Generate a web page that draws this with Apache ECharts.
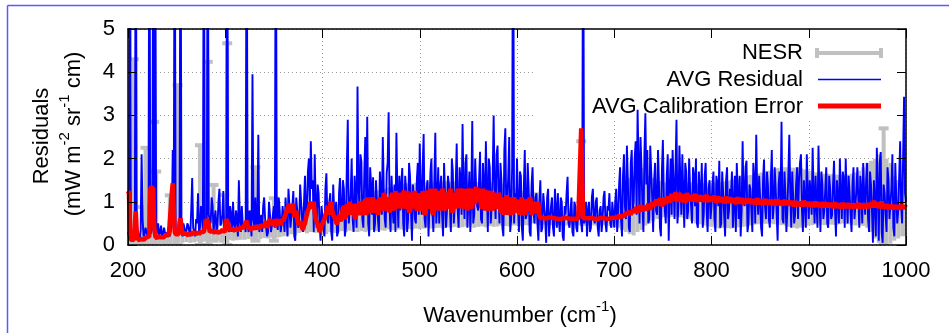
<!DOCTYPE html>
<html><head><meta charset="utf-8">
<script src="https://cdn.jsdelivr.net/npm/echarts@6/dist/echarts.min.js"></script>
<style>html,body{margin:0;padding:0;background:#fff}#c{width:949px;height:333px}</style>
</head><body><div id="c"></div><script>
// ---- data ----
// residual & calibration error: values at even wavenumbers 200,202,...,1000 and odd ones 201,203,...,999
const wnStart = 200;
const wnStep = 2;
const residualEven = [
0.3, 9, 0.2, 0.1, 9, 0.3, 0.15, 2.1, 0.2, 0.4,
0.2, 9, 0.3, 9, 8, 0.35, 0.2, 0.45, 0.25, 0.3,
0.25, 0.4, 0.2, 2.2, 9, 0.3, 0.35, 9, 0.2, 0.4,
0.3, 0.45, 0.2, 1.55, 0.3, 0.6, 1.2, 0.4, 0.7, 9,
0.5, 9, 0.6, 1.1, 0.3, 0.8, 0.4, 1.3, 0.5, 1.25,
0.4, 9, 0.3, 0.7, 1.0, 0.35, 0.6, 1.5, 0.3, 0.5,
0.45, 9, 0.3, 0.6, 3.95, 0.4, 0.35, 2.55, 0.5, 0.3,
1.1, 0.4, 0.3, 0.7, 0.45, 0.9, 9, 0.35, 0.8, 0.5,
0.6, 1.1, 0.2, 0.9, 0.4, 1.25, 0.1, 0.8, 0.5, 1.0,
0.3, 1.6, 0.8, 2.0, 2.4, 1.5, 2.1, 0.4, 1.2, 0.1,
0.9, 0.2, 1.66, 0.5, 1.2, 0.1, 0.8, 1.0, 0.3, 1.55,
0.6, 1.3, 0.4, 2.9, 0.8, 2.0, 0.3, 1.1, 3.67, 0.9,
1.93, 0.4, 2.5, 2.97, 0.2, 1.4, 1.57, 0.5, 1.0, 0.3,
1.2, 2.5, 0.6, 1.67, 3.07, 0.3, 0.9, 1.4, 2.6, 0.4,
0.8, 1.78, 0.2, 1.3, 0.6, 1.6, 0.1, 1.1, 0.5, 1.9,
2.35, 0.7, 2.57, 0.4, 1.5, 0.9, 2.0, 0.3, 2.6, 1.0,
0.5, 1.6, 0.2, 1.2, 0.8, 1.4, 0.3, 1.7, 0.9, 2.35,
0.4, 1.5, 2.8, 0.6, 2.1, 1.0, 0.3, 2.87, 0.7, 1.3,
0.8, 2.16, 0.5, 1.4, 2.4, 0.3, 1.8, 0.9, 3.0, 0.6,
2.3, 0.5, 1.5, 0.2, 2.7, 1.0, 2.5, 0.6, 9, 1.2,
2.0, 0.3, 1.6, 0.1, 2.2, 0.7, 1.3, 0.2, 1.8, 0.5,
1.2, 0.1, 1.5, 0.4, 0.9, 0.05, 1.3, 0.6, 1.1, 0.2,
0.8, 1.2, 0.3, 1.0, 0.1, 0.7, 1.58, 0.4, 1.1, 0.2,
0.9, 0.3, 1.2, 0.5, 9, 0.6, 0.2, 1.0, 0.4, 1.3,
0.5, 1.1, 0.2, 0.9, 0.6, 1.25, 0.3, 0.8, 0.5, 1.0,
0.4, 1.3, 0.7, 1.8, 0.2, 2.1, 0.6, 1.5, 0.3, 2.2,
1.0, 2.4, 3.13, 0.5, 1.8, 0.3, 3.05, 2.2, 0.6, 1.7,
0.3, 1.9, 0.7, 1.4, 0.2, 2.43, 0.8, 1.6, 0.1, 2.0,
2.2, 0.6, 2.9, 0.9, 1.5, 2.1, 0.4, 1.7, 0.8, 1.3,
0.5, 1.6, 2.0, 0.4, 1.2, 1.9, 0.7, 1.9, 0.3, 1.5,
0.9, 1.7, 0.3, 1.4, 1.95, 0.5, 1.2, 0.2, 1.8, 0.8,
1.1, 0.4, 1.6, 1.9, 0.6, 0.2, 2.4, 0.9, 1.95, 0.5,
1.3, 0.3, 1.5, 2.55, 0.7, 1.1, 0.2, 1.98, 0.6, 1.4,
0.4, 2.2, 0.9, 1.3, 0.1, 1.7, 2.85, 0.5, 1.2, 0.8,
2.55, 0.4, 1.1, 0.7, 1.8, 1.5, 2.1, 0.3, 1.0, 2.1,
0.6, 1.2, 2.25, 0.5, 0.9, 2.3, 0.3, 1.4, 0.8, 1.8,
0.4, 1.3, 0.7, 1.95, 0.2, 1.1, 2.0, 0.6, 1.5, 2.0,
0.5, 1.2, 0.3, 1.8, 0.9, 1.8, 0.4, 1.3, 1.9, 0.7,
1.9, 0.3, 1.4, 0.05, 1.0, 2.25, 0.1, 2.15, 0.05, 1.2,
0.3, 1.5, 0.6, 2.1, 0.2, 1.1, 0.8, 2.4, 0.5, 3.43,
1.0
];
const residualOdd = [
0.2, 0.4, 0.15, 0.3, 0.5, 0.2, 0.35, 0.6, 0.25, 0.3,
0.35, 0.25, 0.4, 0.3, 0.2, 0.5, 0.3, 0.2, 0.4, 0.25,
0.3, 0.2, 0.45, 0.5, 0.3, 0.25, 0.4, 0.3, 0.5, 0.25,
0.5, 0.3, 0.8, 0.4, 0.2, 0.5, 0.3, 0.9, 0.35, 0.6,
0.4, 0.7, 0.5, 0.9, 0.6, 0.3, 1.0, 0.45, 0.7, 0.3,
0.6, 0.4, 0.9, 0.3, 0.5, 0.8, 0.2, 0.6, 0.9, 0.4,
0.3, 0.5, 0.8, 0.2, 0.6, 1.1, 0.5, 0.3, 0.7, 0.9,
0.6, 0.2, 1.0, 0.3, 0.7, 0.4, 0.5, 1.1, 0.3, 0.9,
0.3, 0.7, 1.3, 0.4, 0.9, 0.2, 1.1, 0.4, 1.4, 0.6,
1.0, 0.5, 1.7, 0.9, 1.3, 0.3, 0.9, 1.4, 0.5, 0.9,
0.4, 1.3, 0.6, 1.0, 0.3, 1.4, 0.5, 0.2, 1.2, 0.7,
1.5, 0.2, 1.8, 0.5, 1.2, 0.6, 1.6, 0.4, 1.3, 2.1,
0.6, 1.7, 0.9, 0.5, 1.8, 0.7, 0.3, 1.5, 0.6, 1.7,
0.7, 1.3, 0.4, 1.9, 0.8, 1.6, 0.5, 0.3, 1.2, 1.6,
1.4, 0.5, 1.6, 0.3, 1.9, 0.8, 1.4, 0.6, 1.5, 0.7,
1.2, 1.8, 0.6, 1.3, 0.2, 1.7, 0.8, 1.5, 0.5, 1.8,
1.3, 0.7, 1.9, 0.4, 1.6, 0.9, 2.0, 0.5, 1.4, 0.8,
1.8, 0.7, 1.3, 1.9, 0.4, 1.7, 1.2, 0.5, 2.0, 0.9,
1.5, 0.6, 1.9, 0.8, 1.3, 2.0, 0.5, 1.6, 1.2, 2.1,
1.2, 1.9, 0.4, 2.2, 0.7, 1.6, 0.3, 1.8, 0.5, 0.8,
0.9, 1.7, 0.4, 1.3, 0.6, 1.9, 0.3, 1.4, 0.8, 1.1,
0.5, 1.0, 0.3, 1.2, 0.6, 1.1, 0.2, 0.9, 0.4, 1.3,
0.4, 0.6, 1.1, 0.2, 0.9, 1.2, 0.5, 0.8, 0.3, 1.0,
0.4, 1.1, 0.7, 0.3, 0.5, 1.0, 0.8, 0.3, 1.1, 0.6,
1.0, 0.4, 0.8, 0.3, 1.1, 0.5, 0.9, 1.2, 0.4, 0.7,
1.0, 0.3, 1.4, 0.6, 1.6, 0.9, 2.3, 0.4, 1.9, 0.8,
2.0, 0.7, 1.9, 2.5, 0.9, 2.1, 1.4, 0.5, 2.3, 1.1,
1.5, 0.8, 2.2, 0.4, 1.7, 1.1, 0.5, 2.1, 1.3, 0.7,
1.4, 1.8, 0.5, 2.3, 0.7, 1.2, 1.9, 0.6, 2.0, 0.9,
1.8, 0.9, 0.5, 1.7, 1.0, 0.4, 1.6, 0.8, 1.3, 0.6,
1.4, 0.6, 1.6, 0.9, 0.4, 1.7, 0.7, 1.5, 0.6, 1.3,
1.7, 0.9, 0.3, 1.2, 1.6, 0.8, 1.0, 1.8, 0.3, 1.4,
0.8, 1.9, 0.5, 1.2, 1.6, 0.4, 1.5, 0.9, 1.7, 0.6,
1.5, 0.6, 1.8, 0.7, 1.4, 1.0, 0.6, 1.7, 0.3, 1.6,
1.2, 1.7, 0.5, 1.4, 0.6, 1.9, 0.8, 1.5, 0.4, 1.2,
1.5, 0.7, 1.1, 1.6, 0.4, 1.2, 1.7, 0.6, 1.3, 0.5,
1.6, 0.6, 1.4, 0.8, 1.5, 0.5, 1.2, 1.7, 0.4, 1.1,
1.6, 0.7, 1.4, 0.6, 1.3, 1.0, 1.6, 0.5, 1.2, 1.5,
0.6, 1.7, 0.8, 1.5, 0.2, 1.3, 1.9, 0.3, 1.4, 0.7,
1.8, 0.6, 1.3, 0.4, 1.9, 0.5, 1.6, 0.9, 2.0, 1.2
];
const calibErrorEven = [
1.25, 0.2, 0.1, 0.12, 0.78, 0.15, 0.1, 0.18, 0.12, 0.15,
0.15, 0.2, 1.35, 1.3, 0.2, 0.15, 0.2, 0.18, 0.22, 0.2,
0.2, 0.22, 0.25, 1.43, 0.3, 0.22, 0.25, 0.62, 0.25, 0.22,
0.25, 0.22, 0.28, 0.24, 0.27, 0.25, 0.3, 0.26, 0.28, 0.3,
0.28, 0.64, 0.3, 0.27, 0.32, 0.3, 0.29, 0.33, 0.3, 0.32,
0.3, 0.64, 0.35, 0.32, 0.36, 0.33, 0.38, 0.34, 0.37, 0.4,
0.36, 0.56, 0.4, 0.38, 0.42, 0.37, 0.44, 0.4, 0.42, 0.45,
0.42, 0.55, 0.45, 0.6, 0.48, 0.62, 0.5, 0.45, 0.58, 0.5,
0.55, 0.7, 0.85, 0.95, 0.8, 0.9, 0.7, 0.6, 0.45, 0.5,
0.35, 0.5, 0.7, 0.85, 1.0, 0.9, 0.75, 0.55, 0.4, 0.35,
0.45, 0.6, 0.75, 0.85, 0.95, 0.8, 0.65, 0.55, 0.5, 0.6,
0.7, 0.9, 0.65, 0.8, 1.0, 0.7, 0.85, 0.6, 0.9, 0.75,
0.95, 0.7, 1.05, 0.8, 0.9, 0.75, 1.1, 0.85, 0.95, 0.8,
1.0, 0.8, 1.15, 0.85, 1.05, 0.9, 1.2, 0.8, 1.1, 0.95,
1.15, 0.85, 1.25, 0.9, 1.1, 0.8, 1.2, 0.95, 1.05, 0.85,
1.2, 0.8, 1.1, 0.75, 1.25, 0.9, 1.15, 0.7, 1.3, 0.95,
1.1, 0.8, 1.25, 0.85, 1.2, 0.9, 1.3, 0.8, 1.15, 0.95,
1.2, 0.85, 1.3, 0.9, 1.15, 1.0, 1.3, 0.85, 1.25, 1.35,
1.0, 1.3, 0.85, 1.2, 0.95, 1.25, 0.8, 1.15, 0.9, 1.2,
0.9, 1.15, 0.75, 1.1, 0.85, 1.05, 0.7, 1.1, 0.8, 1.0,
0.75, 1.05, 0.8, 1.1, 0.7, 1.0, 0.85, 1.05, 0.75, 0.9,
0.8, 0.95, 0.62, 0.6, 0.63, 0.61, 0.62, 0.6, 0.63, 0.61,
0.62, 0.6, 0.63, 0.61, 0.62, 0.6, 0.62, 0.61, 0.63, 0.6,
0.61, 0.62, 0.6, 2.7, 0.62, 0.61, 0.6, 0.62, 0.61, 0.62,
0.6, 0.62, 0.61, 0.63, 0.6, 0.62, 0.61, 0.6, 0.62, 0.63,
0.62, 0.6, 0.64, 0.66, 0.7, 0.65, 0.75, 0.68, 0.8, 0.72,
0.82, 0.74, 0.86, 0.78, 0.9, 0.8, 0.88, 0.82, 0.92, 0.85,
0.95, 0.88, 1.0, 0.9, 1.02, 0.95, 1.08, 0.98, 1.1, 1.0,
1.15, 1.0, 1.2, 1.02, 1.15, 1.05, 1.2, 1.0, 1.12, 1.05,
1.15, 1.0, 1.12, 1.05, 1.18, 1.0, 1.1, 1.04, 1.15, 1.02,
1.12, 1.0, 1.1, 1.03, 1.15, 0.98, 1.1, 1.02, 1.08, 1.0,
1.08, 0.96, 1.06, 0.98, 1.1, 0.95, 1.05, 0.97, 1.08, 0.96,
1.05, 0.95, 1.08, 0.97, 1.04, 0.94, 1.06, 0.96, 1.02, 0.95,
1.04, 0.93, 1.02, 0.95, 1.05, 0.92, 1.0, 0.94, 1.03, 0.92,
1.0, 0.9, 1.02, 0.93, 0.98, 0.9, 1.01, 0.92, 0.97, 0.9,
0.99, 0.9, 0.96, 0.88, 1.0, 0.9, 0.95, 0.88, 0.98, 0.89,
0.95, 0.87, 0.97, 0.88, 0.94, 0.86, 0.96, 0.88, 0.93, 0.86,
0.95, 0.85, 0.92, 0.87, 0.96, 0.86, 0.93, 0.85, 0.94, 0.87,
0.92, 0.85, 0.95, 0.88, 1.0, 0.9, 0.97, 0.85, 0.93, 0.84,
0.9, 0.83, 0.92, 0.85, 0.89, 0.82, 0.9, 0.84, 0.88, 0.85,
0.87
];
const calibErrorOdd = [
1.2, 0.12, 0.15, 0.5, 0.3, 0.12, 0.15, 0.12, 0.15, 0.18,
0.18, 1.3, 1.35, 0.4, 0.18, 0.2, 0.16, 0.22, 0.18, 0.24,
0.24, 0.2, 1.2, 1.4, 0.25, 0.28, 0.5, 0.6, 0.24, 0.27,
0.24, 0.28, 0.23, 0.3, 0.26, 0.28, 0.25, 0.3, 0.27, 0.26,
0.6, 0.5, 0.29, 0.33, 0.28, 0.34, 0.31, 0.3, 0.35, 0.33,
0.6, 0.5, 0.33, 0.37, 0.35, 0.39, 0.35, 0.4, 0.36, 0.38,
0.5, 0.45, 0.41, 0.36, 0.43, 0.4, 0.45, 0.38, 0.46, 0.42,
0.5, 0.4, 0.55, 0.45, 0.58, 0.44, 0.6, 0.52, 0.47, 0.6,
0.65, 0.78, 0.9, 0.75, 0.95, 0.65, 0.8, 0.5, 0.55, 0.4,
0.45, 0.62, 0.8, 0.95, 0.85, 1.0, 0.6, 0.48, 0.3, 0.45,
0.55, 0.7, 0.9, 0.7, 1.0, 0.7, 0.6, 0.48, 0.7, 0.55,
0.85, 0.6, 0.95, 0.7, 0.85, 0.95, 0.65, 0.95, 0.7, 1.0,
0.8, 1.0, 0.7, 1.1, 0.8, 1.0, 0.75, 1.05, 0.7, 1.1,
0.9, 1.2, 0.8, 1.1, 0.75, 1.15, 0.9, 1.25, 0.85, 1.2,
0.95, 1.2, 0.85, 1.25, 0.75, 1.15, 0.85, 1.25, 0.8, 1.2,
0.9, 1.25, 0.7, 1.2, 0.85, 1.3, 0.75, 1.2, 0.8, 1.25,
0.9, 1.3, 0.8, 1.15, 0.85, 1.25, 0.75, 1.2, 0.85, 1.3,
1.0, 1.25, 0.85, 1.3, 0.8, 1.25, 0.9, 1.3, 0.95, 1.1,
1.25, 0.9, 1.3, 0.8, 1.2, 0.85, 1.25, 0.8, 1.15, 0.85,
1.2, 0.8, 1.1, 0.7, 1.15, 0.8, 1.0, 0.7, 1.1, 0.75,
0.95, 0.7, 1.1, 0.75, 1.05, 0.8, 1.1, 0.7, 1.0, 0.75,
1.0, 0.7, 0.61, 0.63, 0.6, 0.62, 0.64, 0.61, 0.6, 0.62,
0.61, 0.63, 0.6, 0.62, 0.61, 0.63, 0.6, 0.62, 0.61, 0.6,
0.6, 0.61, 0.62, 2.7, 0.6, 0.62, 0.61, 0.6, 0.63, 0.61,
0.61, 0.6, 0.63, 0.61, 0.62, 0.6, 0.63, 0.61, 0.6, 0.62,
0.63, 0.61, 0.7, 0.62, 0.74, 0.68, 0.7, 0.78, 0.7, 0.82,
0.75, 0.88, 0.76, 0.92, 0.78, 0.9, 0.8, 0.95, 0.82, 0.98,
0.9, 1.05, 0.92, 1.08, 0.9, 1.1, 0.95, 1.12, 0.98, 1.18,
1.02, 1.22, 1.0, 1.2, 1.0, 1.18, 0.98, 1.2, 1.02, 1.15,
1.02, 1.18, 1.0, 1.15, 1.02, 1.14, 1.0, 1.16, 1.0, 1.12,
1.02, 1.14, 0.98, 1.12, 1.0, 1.1, 0.97, 1.12, 0.98, 1.1,
0.98, 1.08, 0.95, 1.1, 0.96, 1.08, 0.95, 1.06, 0.97, 1.07,
0.96, 1.06, 0.94, 1.08, 0.95, 1.05, 0.93, 1.06, 0.94, 1.04,
0.94, 1.04, 0.92, 1.05, 0.93, 1.02, 0.92, 1.04, 0.93, 1.02,
0.92, 1.02, 0.9, 1.01, 0.91, 1.0, 0.9, 1.02, 0.91, 0.99,
0.9, 0.99, 0.88, 1.0, 0.89, 0.98, 0.87, 0.99, 0.88, 0.97,
0.88, 0.97, 0.86, 0.98, 0.87, 0.96, 0.85, 0.97, 0.86, 0.96,
0.86, 0.96, 0.85, 0.95, 0.86, 0.97, 0.84, 0.95, 0.85, 0.96,
0.86, 0.97, 0.87, 1.02, 0.88, 0.98, 0.86, 1.0, 0.85, 0.94,
0.84, 0.93, 0.83, 0.92, 0.84, 0.91, 0.83, 0.92, 0.85, 0.9
];
// NESR band (every 4 cm-1 from 200): lower and upper ends of the error bars
const nesrStep = 4;
const nesrLow = [
0, 0.02, 0, 0.03, 0, 0.02, 0, 0.03, 0.02, 0,
0.03, 0.05, 0.04, 0.06, 0.05, 0.07, 0.05, 0.06, 0.08, 0.06,
0.08, 0.07, 0.09, 0.1, 0.08, 0.1, 0.12, 0.1, 0.11, 0.12,
0.12, 0.14, 0.13, 0.15, 0.14, 0.16, 0.15, 0.17, 0.16, 0.18,
0.2, 0.22, 0.25, 0.22, 0.28, 0.3, 0.27, 0.3, 0.28, 0.3,
0.22, 0.25, 0.3, 0.28, 0.3, 0.32, 0.3, 0.33, 0.31, 0.3,
0.32, 0.3, 0.33, 0.35, 0.32, 0.34, 0.33, 0.36, 0.34, 0.35,
0.36, 0.35, 0.37, 0.36, 0.38, 0.37, 0.38, 0.4, 0.38, 0.39,
0.4, 0.38, 0.41, 0.4, 0.42, 0.4, 0.41, 0.43, 0.42, 0.4,
0.42, 0.43, 0.41, 0.44, 0.42, 0.43, 0.45, 0.44, 0.43, 0.45,
0.45, 0.44, 0.46, 0.45, 0.5, 0.48, 0.46, 0.47, 0.45, 0.46,
0.45, 0.46, 0.44, 0.45, 0.47, 0.45, 0.46, 0.44, 0.45, 0.46,
0.45, 0.44, 0.46, 0.45, 0.44, 0.42, 0.4, 0.35, 0.3, 0.25,
0.22, 0.3, 0.35, 0.45, 0.5, 0.55, 0.6, 0.62, 0.65, 0.63,
0.65, 0.66, 0.64, 0.62, 0.6, 0.55, 0.5, 0.48, 0.45, 0.43,
0.42, 0.4, 0.38, 0.4, 0.39, 0.38, 0.4, 0.41, 0.42, 0.43,
0.45, 0.47, 0.48, 0.5, 0.49, 0.5, 0.48, 0.47, 0.46, 0.45,
0.42, 0.4, 0.38, 0.4, 0.42, 0.45, 0.46, 0.48, 0.47, 0.46,
0.48, 0.47, 0.46, 0.48, 0.5, 0.48, 0.47, 0.45, 0.46, 0.44,
0.4, 0.3, 0.15, 0.05, 0.02, 0.05, 0.03, 0.1, 0.15, 0.2,
0.2
];
const nesrHigh = [
0.2, 0.25, 0.2, 0.22, 0.25, 0.22, 0.2, 0.24, 0.22, 0.25,
0.25, 0.27, 0.26, 0.28, 0.27, 0.29, 0.28, 0.3, 0.29, 0.3,
0.3, 0.32, 0.31, 0.33, 0.32, 0.34, 0.35, 0.34, 0.36, 0.38,
0.38, 0.4, 0.42, 0.44, 0.46, 0.48, 0.5, 0.52, 0.55, 0.58,
0.6, 0.68, 0.75, 0.72, 0.8, 0.88, 0.92, 0.9, 0.85, 0.8,
0.7, 0.75, 0.85, 0.9, 0.95, 1.0, 0.98, 1.05, 1.1, 1.12,
1.15, 1.2, 1.22, 1.25, 1.27, 1.26, 1.3, 1.33, 1.35, 1.37,
1.4, 1.42, 1.43, 1.42, 1.44, 1.45, 1.44, 1.46, 1.45, 1.47,
1.46, 1.47, 1.48, 1.46, 1.47, 1.48, 1.47, 1.46, 1.48, 1.47,
1.46, 1.45, 1.47, 1.45, 1.44, 1.43, 1.42, 1.4, 1.38, 1.36,
1.3, 1.25, 1.2, 1.18, 1.23, 1.22, 1.0, 0.8, 0.72, 0.7,
0.68, 0.7, 0.69, 0.7, 0.68, 0.7, 0.69, 0.68, 0.7, 0.69,
0.7, 0.69, 0.7, 0.72, 0.75, 0.8, 0.9, 1.1, 1.35, 1.55,
1.6, 1.75, 1.78, 1.7, 1.6, 1.55, 1.5, 1.48, 1.45, 1.46,
1.45, 1.44, 1.43, 1.42, 1.44, 1.45, 1.43, 1.42, 1.44, 1.45,
1.44, 1.45, 1.46, 1.47, 1.48, 1.5, 1.52, 1.55, 1.58, 1.6,
1.62, 1.64, 1.66, 1.68, 1.7, 1.72, 1.75, 1.78, 1.8, 1.8,
1.8, 1.79, 1.8, 1.78, 1.75, 1.72, 1.7, 1.68, 1.66, 1.65,
1.65, 1.64, 1.63, 1.62, 1.64, 1.63, 1.65, 1.68, 1.72, 1.8,
1.9, 1.95, 2.0, 2.1, 2.05, 2.0, 1.9, 1.6, 1.5, 1.45,
1.4
];
// isolated large NESR error bars
const nesrSpikeX    = [206, 215, 218, 227, 229, 243, 251, 274, 282, 288, 299, 302, 331, 350, 666, 977];
const nesrSpikeLow  = [0, 0, 0, 0, 0.3, 0, 0, 0, 0, 0.1, 0.1, 0, 0.1, 0.1, 0.5, 0];
const nesrSpikeHigh = [4.3, 0.88, 2.25, 2.85, 1.7, 1.15, 3.7, 2.31, 4.24, 1.39, 1.16, 4.67, 1.8, 1.08, 2.4, 2.7];
// axes
const xMin = 200, xMax = 1000, xInterval = 100;
const yMin = 0, yMax = 5, yInterval = 1;
const legendNames = ['NESR', 'AVG Residual', 'AVG Calibration Error'];

// ---- build ----
const FONT = '"Liberation Sans", Arial, sans-serif';
function interleave(even, odd) {
  const out = [];
  even.forEach((v, i) => {
    out.push([wnStart + i * wnStep, v]);
    if (i < odd.length) out.push([wnStart + i * wnStep + 1, odd[i]]);
  });
  return out;
}
const residualData = interleave(residualEven, residualOdd);
const calibData = interleave(calibErrorEven, calibErrorOdd);
const nesrData = nesrHigh.map((h, i) => [wnStart + i * nesrStep, nesrLow[i], h]);
const spikeData = nesrSpikeX.map((x, i) => [x, nesrSpikeLow[i], nesrSpikeHigh[i]]);
const GRAY = '#c0c0c0';

const chart = echarts.init(document.getElementById('c'), null, {renderer: 'canvas'});

function axisBase(pos, min, max, interval) {
  return {type: 'value', position: pos, min, max, interval, z: 10,
    axisLine: {show: true, onZero: false, lineStyle: {color: '#000', width: 1.5}},
    axisTick: {show: true, inside: true, length: 9, lineStyle: {color: '#000', width: 1}},
    axisLabel: {show: false}, splitLine: {show: false}};
}
const gridAxis = (pos, min, max, interval) => ({type: 'value', position: pos, min, max, interval, z: 0,
  axisLine: {show: false}, axisTick: {show: false}, axisLabel: {show: false},
  splitLine: {show: true, lineStyle: {color: '#9a9a9a', width: 1, type: [1, 3]}}});

const xBottom = axisBase('bottom', xMin, xMax, xInterval);
xBottom.axisLabel = {show: true, margin: 15, fontSize: 22, fontFamily: FONT, color: '#000', formatter: v => String(v)};
const yLeft = axisBase('left', yMin, yMax, yInterval);
yLeft.axisLabel = {show: true, margin: 13, fontSize: 22, fontFamily: FONT, color: '#000', formatter: v => String(v)};

const option = {
  animation: false,
  backgroundColor: '#fff',
  grid: {left: 128, right: 43, top: 29, bottom: 88, containLabel: false},
  xAxis: [xBottom, axisBase('top', xMin, xMax, xInterval), gridAxis('bottom', xMin, xMax, xInterval)],
  yAxis: [yLeft, axisBase('right', yMin, yMax, yInterval), gridAxis('left', yMin, yMax, yInterval)],
  series: [
    {name: legendNames[0], type: 'custom', z: 2, clip: true, data: nesrData,
     encode: {x: 0, y: [1, 2]},
     renderItem: function (params, api) {
       const x = api.value(0), lo = api.value(1), hi = api.value(2);
       const a = api.coord([x - nesrStep / 2, hi]);
       const b = api.coord([x + nesrStep / 2, lo]);
       return {type: 'rect', shape: {x: a[0], y: a[1], width: b[0] - a[0], height: b[1] - a[1]},
               style: {fill: GRAY}};
     }},
    {name: legendNames[0] + ' bars', type: 'custom', z: 2, clip: true, data: spikeData,
     encode: {x: 0, y: [1, 2]},
     renderItem: function (params, api) {
       const x = api.value(0), lo = api.value(1), hi = api.value(2);
       const t = api.coord([x, hi]);
       const b = api.coord([x, lo]);
       return {type: 'group', children: [
         {type: 'rect', shape: {x: t[0] - 2, y: t[1], width: 4, height: b[1] - t[1]}, style: {fill: GRAY}},
         {type: 'rect', shape: {x: t[0] - 5, y: t[1] - 2, width: 10, height: 4}, style: {fill: GRAY}},
         {type: 'rect', shape: {x: b[0] - 5, y: b[1] - 2, width: 10, height: 4}, style: {fill: GRAY}}
       ]};
     }},
    {name: legendNames[1], type: 'line', z: 3, data: residualData, showSymbol: false, symbol: 'none',
     clip: true, lineStyle: {color: '#0000ff', width: 1.9}},
    {name: legendNames[2], type: 'line', z: 4, data: calibData, showSymbol: false, symbol: 'none',
     clip: true, lineStyle: {color: '#ff0000', width: 4.5}}
  ],
  graphic: [
    {type: 'line', z: 20, shape: {x1: 7.5, y1: 5.5, x2: 949, y2: 5.5}, style: {stroke: '#5a5aff', lineWidth: 1.5}},
    {type: 'line', z: 20, shape: {x1: 7.5, y1: 5.5, x2: 7.5, y2: 333}, style: {stroke: '#5a5aff', lineWidth: 1.5}},
    {type: 'rect', z: 1, shape: {x: 533, y: 29, width: 373, height: 91}, style: {fill: '#fff'}},
    {type: 'text', z: 1, style: {text: legendNames[0], x: 803, y: 53, align: 'right', verticalAlign: 'middle', fontSize: 22, fontFamily: FONT, fill: '#000'}},
    {type: 'text', z: 1, style: {text: legendNames[1], x: 803, y: 80, align: 'right', verticalAlign: 'middle', fontSize: 22, fontFamily: FONT, fill: '#000'}},
    {type: 'text', z: 1, style: {text: legendNames[2], x: 803, y: 107, align: 'right', verticalAlign: 'middle', fontSize: 22, fontFamily: FONT, fill: '#000'}},
    {type: 'rect', z: 1, shape: {x: 817, y: 51, width: 65, height: 4}, style: {fill: GRAY}},
    {type: 'rect', z: 1, shape: {x: 815, y: 48, width: 4, height: 10}, style: {fill: GRAY}},
    {type: 'rect', z: 1, shape: {x: 879, y: 48, width: 4, height: 10}, style: {fill: GRAY}},
    {type: 'line', z: 1, shape: {x1: 818, y1: 79.5, x2: 881, y2: 79.5}, style: {stroke: '#0000ff', lineWidth: 1.5}},
    {type: 'line', z: 1, shape: {x1: 818, y1: 106, x2: 881, y2: 106}, style: {stroke: '#ff0000', lineWidth: 5}},
    {type: 'text', z: 20, x: 520, y: 313, style: {text: '{n|Wavenumber (cm}{s|-1}{n|)}', x: 0, y: 0, align: 'center', verticalAlign: 'middle',
      rich: {n: {fontSize: 22, fontFamily: FONT, fill: '#000', lineHeight: 28, verticalAlign: 'bottom'},
             s: {fontSize: 15, fontFamily: FONT, fill: '#000', lineHeight: 15, verticalAlign: 'top'}}}},
    {type: 'text', z: 20, x: 42, y: 136, rotation: Math.PI / 2, style: {text: 'Residuals', x: 0, y: 0, align: 'center', verticalAlign: 'middle', fontSize: 22, fontFamily: FONT, fill: '#000'}},
    {type: 'text', z: 20, x: 71, y: 134, rotation: Math.PI / 2, style: {text: '{n|(mW m}{s|-2}{n| sr}{s|-1}{n| cm)}', x: 0, y: 0, align: 'center', verticalAlign: 'middle',
      rich: {n: {fontSize: 22, fontFamily: FONT, fill: '#000', lineHeight: 28, verticalAlign: 'bottom'},
             s: {fontSize: 15, fontFamily: FONT, fill: '#000', lineHeight: 15, verticalAlign: 'top'}}}}
  ]
};
chart.setOption(option);
</script></body></html>
